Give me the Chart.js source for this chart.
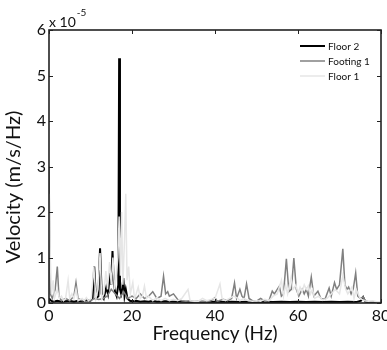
<!DOCTYPE html>
<html>
<head>
<meta charset="utf-8">
<script src="https://cdn.jsdelivr.net/npm/chart.js@4"></script>
<style>
html,body{margin:0;padding:0;background:#fff;}
#wrap{width:387px;height:350px;}
</style>
</head>
<body>
<div id="wrap"><canvas id="c" width="387" height="350"></canvas></div>
<script>
// Values in units of 1e-5 m/s/Hz
const floor2Freq = [0,0.5,1,2,3,4,5,6,7,8,9,10,10.5,10.9,11.3,11.9,12.3,12.7,13.2,13.8,14.2,14.7,15.0,15.3,15.6,15.9,16.3,16.7,16.9,17.1,17.4,17.7,17.9,18.2,18.5,18.9,19.5,20,21,22,23,24,25,26,28,30,32,34,36,38,40,42,44,46,48,50,52,54,56,58,60,62,64,66,68,70,72,74,75.2,75.7,76.2,77,78,79,80];
const floor2Vals = [0.1,0.05,0.03,0.05,0.03,0.04,0.05,0.03,0.05,0.04,0.06,0.05,0.1,0.8,0.1,0.15,1.2,0.2,0.1,0.35,0.2,0.66,0.4,1.14,0.5,0.25,0.15,0.4,5.38,0.3,0.2,0.35,0.55,0.15,0.3,0.1,0.05,0.04,0.05,0.03,0.04,0.03,0.05,0.03,0.04,0.03,0.03,0.02,0.03,0.02,0.03,0.02,0.03,0.02,0.03,0.02,0.03,0.02,0.03,0.02,0.03,0.02,0.03,0.02,0.03,0.02,0.03,0.02,0.05,0.13,0.03,0.02,0.02,0.02,0.02];

const footingFreq = [0,0.3,0.8,1.5,2.0,2.4,3,4,5,6,6.5,7,8,9,10,11,12,13,14,15,16,17,18,19,20,21,22,23,24,25,26,27,27.6,28.1,28.6,29,30,31,32,33,34,35,36,37,38,39,40,40.5,41,42,43,44,44.7,45.2,46,46.5,47,47.6,48.2,49,50,51,52,53,53.8,54.3,55,55.5,56,56.5,57.2,57.8,58.4,59,59.6,60.2,61,61.5,62,62.5,63.2,63.8,64.8,65.5,66.5,67.5,68,68.8,69.3,70,70.8,71.3,71.8,72.2,72.8,73.3,73.9,74.4,75,75.7,76.2,77,78,79,80];
const footingVals = [3.0,0.2,0.1,0.3,0.8,0.15,0.05,0.1,0.05,0.15,0.45,0.1,0.05,0.08,0.05,0.1,0.08,0.1,0.15,0.3,0.2,0.1,0.25,0.1,0.15,0.1,0.2,0.1,0.15,0.25,0.1,0.15,0.59,0.2,0.25,0.15,0.2,0.08,0.05,0.04,0.05,0.03,0.03,0.04,0.03,0.05,0.12,0.04,0.05,0.08,0.05,0.1,0.44,0.1,0.3,0.15,0.1,0.42,0.1,0.05,0.04,0.1,0.04,0.05,0.26,0.2,0.3,0.37,0.15,0.2,0.97,0.25,0.3,0.99,0.3,0.15,0.3,0.2,0.3,0.15,0.57,0.15,0.26,0.1,0.08,0.33,0.15,0.45,0.3,0.4,1.19,0.4,0.3,0.35,0.2,0.3,0.66,0.15,0.1,0.13,0.05,0.03,0.03,0.02,0.02];

const floor1Freq = [0,0.3,0.6,1,1.3,2,2.5,3,3.5,4,4.6,5,5.5,6,6.5,7,8,8.5,9,9.5,10.2,10.8,11.3,11.8,12.3,12.7,13.2,13.7,14.1,14.6,15,15.4,15.8,16.2,16.6,16.9,17.2,17.5,17.8,18.2,18.5,18.8,19.2,19.6,20.2,20.6,21,21.5,22,22.5,23,23.5,24,25,26,27,28,29,30,31,32,33.5,34,35,36,37,38,39,40,41.2,41.7,42.5,43.5,44.5,45.5,46,47,48,49,50,51,52,53,54,55,56,56.5,57,57.5,58.3,58.8,59.5,60,60.5,61,61.5,62,62.5,63,63.5,64,65,66,67,68,69,70,70.8,71.5,72,73,73.5,74,75,76,77,78,79,80];
const floor1Vals = [2.4,1.0,0.2,0.5,0.1,0.3,0.1,0.15,0.05,0.1,0.5,0.1,0.2,0.1,0.3,0.05,0.1,0.05,0.12,0.05,0.1,0.8,0.1,0.3,1.1,0.1,0.2,0.7,0.3,0.9,0.4,1.0,0.3,0.6,1.0,1.9,0.6,2.0,0.4,1.4,2.4,0.5,0.8,0.2,0.45,0.1,0.2,0.35,0.1,0.15,0.37,0.1,0.15,0.05,0.12,0.05,0.1,0.05,0.08,0.05,0.1,0.3,0.05,0.04,0.04,0.1,0.05,0.08,0.1,0.42,0.1,0.05,0.1,0.15,0.1,0.05,0.1,0.05,0.04,0.05,0.04,0.08,0.05,0.15,0.2,0.5,0.15,0.4,0.2,0.55,0.3,0.4,0.2,0.35,0.25,0.4,0.3,0.38,0.2,0.3,0.1,0.15,0.06,0.1,0.2,0.3,0.2,0.6,0.3,0.2,0.35,0.1,0.3,0.1,0.05,0.04,0.05,0.03,0.03];

const xTicks = [0,20,40,60,80];
const yTicks = [0,1,2,3,4,5,6];
const seriesNames = ['Floor 2','Footing 1','Floor 1'];
const seriesColors = ['#000000','#808080','#e6e6e6'];
const yTitle = 'Velocity (m/s/Hz)';

const zip = (xs, ys) => xs.map((x, i) => ({x: x, y: ys[i]}));
const FONT = 'Lato, "Open Sans", sans-serif';

const frame = {
  id: 'frame',
  afterDraw(chart) {
    const ctx = chart.ctx, a = chart.chartArea;
    const xs = chart.scales.x, ys = chart.scales.y;
    ctx.save();
    ctx.strokeStyle = '#222';
    ctx.lineWidth = 1.6;
    ctx.strokeRect(a.left, a.top, a.right - a.left, a.bottom - a.top);
    ctx.lineWidth = 1;
    ctx.beginPath();
    xTicks.forEach(v => {
      const px = Math.round(xs.getPixelForValue(v)) + 0.5;
      ctx.moveTo(px, a.bottom); ctx.lineTo(px, a.bottom - 4);
      ctx.moveTo(px, a.top); ctx.lineTo(px, a.top + 4);
    });
    yTicks.forEach(v => {
      const py = Math.round(ys.getPixelForValue(v)) + 0.5;
      ctx.moveTo(a.left, py); ctx.lineTo(a.left + 4, py);
      ctx.moveTo(a.right, py); ctx.lineTo(a.right - 4, py);
    });
    ctx.stroke();
    // exponent label
    ctx.fillStyle = '#111';
    ctx.textBaseline = 'alphabetic';
    ctx.textAlign = 'left';
    ctx.font = '14px ' + FONT;
    ctx.fillText('x 10', a.left, a.top - 3);
    const w = ctx.measureText('x 10').width;
    ctx.font = '10px ' + FONT;
    ctx.fillText('-5', a.left + w + 1, a.top - 14);
    // y-axis title
    ctx.save();
    ctx.translate(14, 187);
    ctx.rotate(-Math.PI / 2);
    ctx.font = '20px ' + FONT;
    ctx.textAlign = 'center';
    ctx.textBaseline = 'middle';
    ctx.fillText(yTitle, 0, 0);
    ctx.restore();
    // legend
    const lx = 300, ly = [46, 61, 76];
    ctx.font = '10px ' + FONT;
    ctx.textBaseline = 'middle';
    ctx.textAlign = 'left';
    chart.data.datasets.forEach((ds, i) => {
      ctx.strokeStyle = ds.borderColor;
      ctx.lineWidth = ds.borderWidth;
      ctx.beginPath();
      ctx.moveTo(lx, ly[i]); ctx.lineTo(lx + 25, ly[i]);
      ctx.stroke();
      ctx.fillStyle = '#111';
      ctx.fillText(ds.label, lx + 28, ly[i] + 0.5);
    });
    ctx.restore();
  }
};

new Chart(document.getElementById('c'), {
  type: 'line',
  data: {
    datasets: [
      {label: seriesNames[0], data: zip(floor2Freq, floor2Vals), borderColor: seriesColors[0], borderWidth: 2, order: 2},
      {label: seriesNames[1], data: zip(footingFreq, footingVals), borderColor: seriesColors[1], borderWidth: 1.5, order: 1},
      {label: seriesNames[2], data: zip(floor1Freq, floor1Vals), borderColor: seriesColors[2], borderWidth: 1.5, order: 0}
    ]
  },
  options: {
    responsive: false,
    animation: false,
    devicePixelRatio: 1,
    layout: {padding: {top: 30, right: 6, left: 0, bottom: 0}},
    elements: {point: {radius: 0}, line: {tension: 0}},
    plugins: {legend: {display: false}, tooltip: {enabled: false}},
    scales: {
      x: {
        type: 'linear', min: 0, max: 80,
        afterBuildTicks: s => { s.ticks = xTicks.map(v => ({value: v})); },
        afterFit: s => { s.height = 47; s.paddingLeft = 0; s.paddingRight = 0; },
        grid: {display: false, drawTicks: false},
        border: {display: false},
        ticks: {padding: 3, color: '#111', font: {family: FONT, size: 16}, maxRotation: 0, autoSkip: false},
        title: {display: true, text: 'Frequency (Hz)', color: '#111', font: {family: FONT, size: 19}, padding: {top: 0, bottom: 5}}
      },
      y: {
        type: 'linear', min: 0, max: 6,
        afterBuildTicks: s => { s.ticks = yTicks.map(v => ({value: v})); },
        afterFit: s => { s.width = 49; s.paddingTop = 0; s.paddingBottom = 0; },
        grid: {display: false, drawTicks: false},
        border: {display: false},
        ticks: {padding: 3, color: '#111', font: {family: FONT, size: 16}}
      }
    }
  },
  plugins: [frame]
});
</script>
</body>
</html>
